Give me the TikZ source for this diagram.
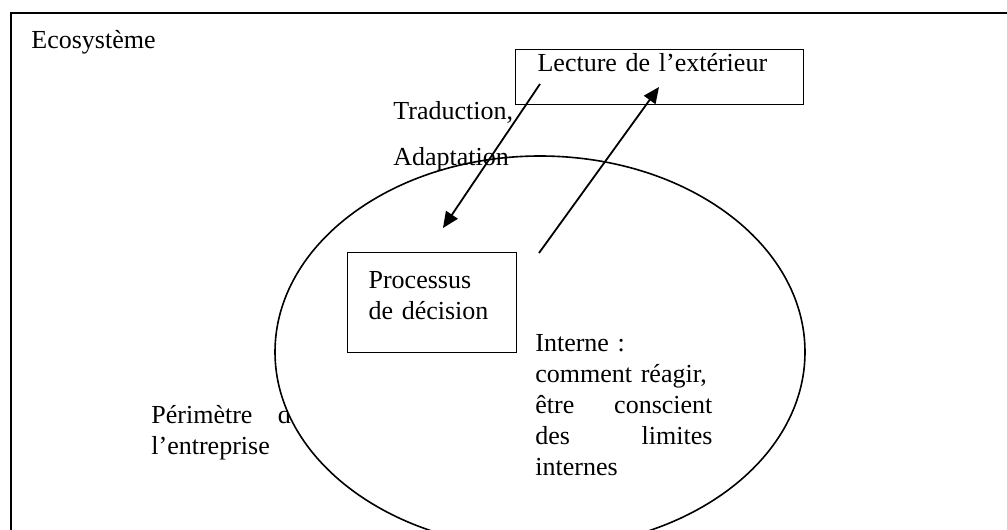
\documentclass[tikz,border=0pt]{standalone}
\usepackage{fontspec}
\setmainfont{Liberation Serif}
\usepackage{tikz}
\usetikzlibrary{arrows.meta, positioning, shapes.geometric}

\begin{document}
\begin{tikzpicture}[
    x=0.5pt, y=-0.5pt,
    every node/.style={inner sep=0pt, font=\fontsize{13pt}{15.5pt}\selectfont},
    txt/.style={anchor=base west},
    blk/.style={anchor=base west, text width=#1, align=left},
    box/.style={draw, line width=0.6pt, anchor=north west, inner xsep=10.5pt,
                text width=#1, align=left},
    arr/.style={-{Triangle[length=8pt, width=7pt]}, line width=0.9pt},
]
    \useasboundingbox (0,0) rectangle (1007,530);
    \clip (0,0) rectangle (1007,530);

    % frame, cut at right and bottom
    \draw[line width=1.1pt] (11,13) rectangle (1040,570);
    \node[txt] (eco) at (31,48) {Ecosystème};

    \node[blk=75.5pt] (peri) at (151,423) {Périmètre\hfill de\\l’entreprise};
    \node[draw, fill=white, ellipse, line width=0.8pt, minimum width=265pt,
          minimum height=196pt] (firm) at (540,352) {};

    \node[box=122pt, inner xsep=11pt, text height=11pt, text depth=16.5pt]
        (lecture) at (515,49) {Lecture de l’extérieur};
    \node[box=63.5pt, text height=18pt, text depth=32pt]
        (proc) at (347,252) {Processus\\de décision};

    \node[txt] (trad) at (393,119) {Traduction,};
    \node[txt] (adapt) at (393,165) {Adaptation};
    \node[blk=88.5pt] (interne) at (535,351)
        {Interne :\\comment réagir,\\être\hfill conscient\\des\hfill limites\\internes};

    \coordinate (tin) at (540,84);
    \coordinate (tout) at (443,228);
    \coordinate (rin) at (539,253);
    \coordinate (rout) at (659,87);
    \draw[arr] (tin) -- (tout);
    \draw[arr] (rin) -- (rout);
\end{tikzpicture}
\end{document}
